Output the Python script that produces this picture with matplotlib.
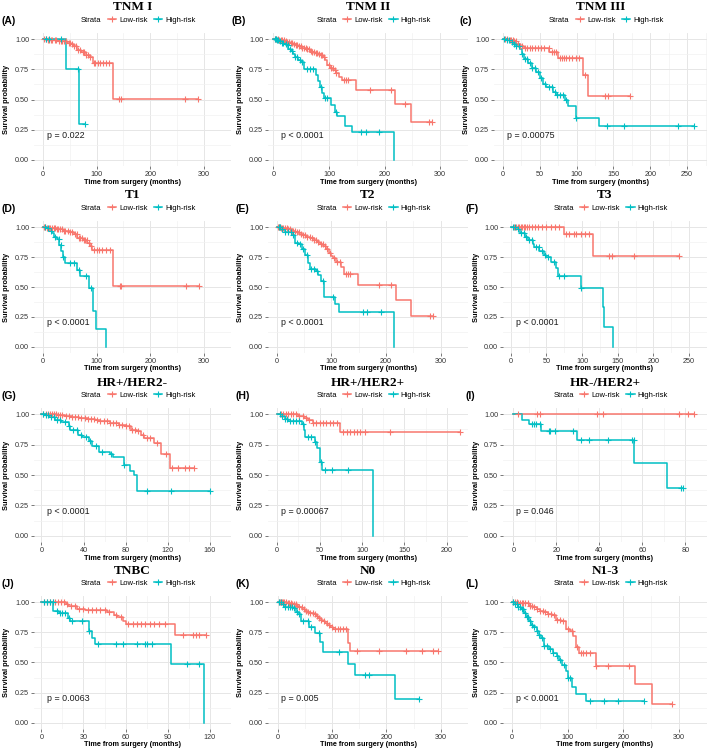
import numpy as np
import matplotlib
matplotlib.use("Agg")
import matplotlib.pyplot as plt
import matplotlib.transforms as mtrans
from matplotlib.lines import Line2D

plt.rcParams['font.family'] = ['Liberation Sans', 'DejaVu Sans']

# ---- data: event times (t), survival after event (s), censor times (c)
A_low_t = [8, 20, 28, 45, 52, 57, 63, 72, 80, 87, 93, 131]
A_low_s = [0.995, 0.99, 0.98, 0.97, 0.955, 0.94, 0.91, 0.89, 0.87, 0.85, 0.805, 0.505]
A_low_c = [3, 6, 9, 12, 15, 18, 22, 25, 30, 33, 36, 40, 44, 48, 50, 54, 58, 61, 65, 70, 74, 77, 80,
           84, 88, 95, 98, 102, 106, 112, 118, 124, 142, 145, 265, 288]
A_high_t = [43, 67]
A_high_s = [0.75, 0.30]
A_high_c = [6, 12, 34, 65, 78]

B_low_t = [5, 10, 15, 20, 25, 30, 35, 40, 45, 50, 55, 60, 65, 70, 75, 80, 85, 90, 93, 96, 102, 108,
           113, 118, 124, 148, 219, 248]
B_low_s = [0.997, 0.993, 0.99, 0.982, 0.975, 0.965, 0.957, 0.95, 0.94, 0.93, 0.922, 0.915, 0.905,
           0.895, 0.885, 0.875, 0.865, 0.855, 0.83, 0.785, 0.76, 0.74, 0.72, 0.69, 0.66, 0.58, 0.46, 0.31]
B_low_c = [3, 5, 8, 10, 13, 16, 19, 22, 25, 28, 31, 34, 37, 40, 43, 46, 49, 52, 55, 58, 61, 64, 67, 70,
           73, 76, 79, 82, 85, 88, 91, 100, 104, 107, 110, 113, 127, 131, 135, 173, 211, 236, 280, 286]
B_high_t = [5, 10, 15, 19, 25, 27, 31, 35, 38, 44, 50, 55, 77, 80, 84, 88, 91, 104, 111, 114, 129, 141, 216]
B_high_s = [0.99, 0.98, 0.97, 0.96, 0.95, 0.92, 0.90, 0.88, 0.85, 0.83, 0.81, 0.75, 0.70, 0.65, 0.60,
            0.55, 0.51, 0.455, 0.40, 0.36, 0.28, 0.23, 0.0]
B_high_c = [2, 4, 6, 9, 12, 15, 18, 22, 26, 30, 34, 38, 42, 47, 52, 60, 66, 72, 86, 92, 96, 112, 157, 167, 190]

C_low_t = [8, 14, 18, 23, 29, 63, 75, 109, 116]
C_low_s = [0.995, 0.985, 0.96, 0.94, 0.925, 0.89, 0.845, 0.70, 0.53]
C_low_c = [3, 6, 9, 11, 13, 15, 17, 20, 23, 26, 30, 33, 37, 40, 44, 48, 52, 56, 62, 66, 69, 72, 77, 80,
           83, 86, 90, 94, 99, 103, 112, 138, 143, 172]
C_high_t = [5, 10, 14, 18, 23, 26, 29, 34, 39, 45, 50, 54, 59, 68, 72, 84, 88, 99, 131]
C_high_s = [0.99, 0.975, 0.96, 0.94, 0.92, 0.88, 0.835, 0.80, 0.76, 0.73, 0.68, 0.63, 0.60, 0.56, 0.54,
            0.50, 0.45, 0.35, 0.28]
C_high_c = [2, 5, 8, 12, 15, 18, 22, 26, 30, 33, 37, 40, 44, 48, 52, 57, 62, 66, 70, 74, 77, 81, 86, 99,
            141, 164, 237, 259]

D_low_t = [6, 15, 26, 37, 50, 58, 64, 75, 83, 88, 92, 131]
D_low_s = [0.995, 0.99, 0.985, 0.97, 0.96, 0.94, 0.91, 0.89, 0.87, 0.84, 0.81, 0.51]
D_low_c = [3, 5, 8, 11, 14, 17, 20, 23, 26, 29, 32, 35, 39, 42, 46, 50, 55, 60, 63, 67, 70, 73, 76, 79,
           82, 86, 90, 96, 100, 104, 110, 118, 125, 143, 146, 266, 290]
D_high_t = [7, 12, 17, 20, 26, 31, 34, 37, 42, 64, 69, 86, 94, 99, 117]
D_high_s = [0.99, 0.97, 0.95, 0.92, 0.90, 0.85, 0.80, 0.75, 0.70, 0.645, 0.59, 0.49, 0.30, 0.15, 0.0]
D_high_c = [5, 9, 15, 22, 30, 33, 37, 50, 58, 67, 80, 90]

E_low_t = [7, 14, 20, 27, 34, 41, 48, 54, 61, 68, 74, 79, 85, 90, 95, 100, 103, 108, 117, 122, 148, 219, 246]
E_low_s = [0.995, 0.99, 0.98, 0.97, 0.955, 0.94, 0.93, 0.92, 0.905, 0.89, 0.875, 0.86, 0.84, 0.82, 0.78,
           0.76, 0.74, 0.71, 0.67, 0.61, 0.52, 0.395, 0.26]
E_low_c = [2, 4, 6, 8, 10, 12, 15, 18, 21, 24, 27, 30, 33, 36, 40, 44, 48, 52, 56, 60, 64, 68, 72, 76, 80,
           84, 88, 92, 98, 104, 110, 116, 126, 130, 134, 187, 209, 280, 285]
E_high_t = [8, 14, 27, 33, 41, 46, 52, 57, 60, 71, 76, 81, 87, 106, 114, 214]
E_high_s = [0.98, 0.96, 0.93, 0.87, 0.86, 0.82, 0.77, 0.70, 0.65, 0.63, 0.60, 0.55, 0.42, 0.36, 0.29, 0.0]
E_high_c = [3, 6, 10, 15, 20, 25, 30, 36, 42, 48, 55, 62, 68, 74, 85, 103, 157, 165, 190]

F_low_t = [74, 115]
F_low_s = [0.94, 0.755]
F_low_c = [4, 8, 10, 12, 14, 16, 18, 20, 23, 26, 30, 34, 38, 44, 50, 56, 62, 67, 77, 82, 88, 92, 98, 104,
           110, 138, 142, 172, 236]
F_high_t = [8, 13, 20, 24, 31, 33, 40, 47, 49, 56, 63, 66, 99, 129, 131, 143]
F_high_s = [0.98, 0.95, 0.92, 0.89, 0.86, 0.83, 0.80, 0.77, 0.75, 0.71, 0.66, 0.59, 0.49, 0.33, 0.165, 0.0]
F_high_c = [3, 6, 10, 14, 18, 22, 26, 30, 35, 39, 44, 48, 52, 60, 67, 74, 99]

G_low_t = [7, 15, 22, 29, 36, 44, 51, 56, 65, 74, 80, 85, 91, 95, 97, 107, 114, 122]
G_low_s = [0.997, 0.99, 0.985, 0.977, 0.97, 0.96, 0.95, 0.94, 0.93, 0.91, 0.90, 0.87, 0.86, 0.83, 0.80,
           0.76, 0.67, 0.56]
G_low_c = [2, 4, 6, 8, 10, 12, 14, 16, 18, 20, 23, 26, 29, 32, 35, 38, 41, 44, 47, 50, 53, 56, 59, 62, 65,
           68, 71, 74, 77, 80, 83, 86, 89, 92, 96, 100, 103, 110, 118, 124, 130, 136, 140, 145]
G_high_t = [4, 7, 13, 19, 26, 27, 35, 39, 45, 48, 55, 65, 68, 78, 84, 88, 91]
G_high_s = [0.99, 0.98, 0.95, 0.935, 0.90, 0.87, 0.83, 0.81, 0.78, 0.74, 0.69, 0.67, 0.645, 0.58, 0.53,
            0.50, 0.37]
G_high_c = [2, 4, 6, 9, 12, 15, 18, 22, 26, 30, 34, 38, 42, 46, 52, 58, 66, 78, 100, 123, 160]

H_low_t = [24, 31, 36, 42, 74]
H_low_s = [0.985, 0.97, 0.95, 0.93, 0.855]
H_low_c = [4, 7, 10, 13, 16, 19, 22, 26, 30, 34, 38, 42, 46, 50, 54, 58, 62, 66, 70, 78, 82, 86, 90, 94,
           98, 104, 133, 215]
H_high_t = [5, 9, 13, 29, 31, 33, 44, 47, 50, 51, 53, 113]
H_high_s = [0.985, 0.96, 0.94, 0.915, 0.87, 0.81, 0.77, 0.72, 0.67, 0.61, 0.54, 0.0]
H_high_c = [3, 6, 9, 12, 15, 18, 22, 26, 30, 36, 40, 45, 52, 56, 64, 84]

I_low_t = []
I_low_s = []
I_low_c = [2, 11, 12.6, 39, 41.5, 77, 81, 84]
I_high_t = [4, 7.5, 13, 29.6, 56.3, 71.5]
I_high_s = [0.955, 0.915, 0.865, 0.79, 0.595, 0.395]
I_high_c = [8.5, 9.5, 10.7, 12.4, 16.5, 17.2, 19.4, 27.7, 31.5, 35, 43.8, 55, 56, 78, 79]

J_low_t = [17.6, 19, 25.6, 31, 47, 51.6, 54, 58, 60, 95]
J_low_s = [0.985, 0.965, 0.945, 0.935, 0.915, 0.895, 0.875, 0.845, 0.82, 0.73]
J_low_c = [2, 4, 6, 8, 10, 12, 14, 16, 18, 21, 24, 27, 30, 33, 36, 39, 42, 45, 48, 53, 57, 62, 65, 68, 71,
           74, 77, 80, 84, 88, 101, 108, 110, 112, 117]
J_high_t = [8.2, 12.6, 19, 20.6, 34, 36.4, 38, 92, 115.6]
J_high_s = [0.93, 0.91, 0.87, 0.84, 0.76, 0.70, 0.65, 0.49, 0.0]
J_high_c = [2, 4, 6, 8, 11, 13, 15, 17, 20, 22, 29, 34, 40, 53, 58, 68, 74, 75, 79, 104, 112]

K_low_t = [17, 26, 34, 40, 45, 50, 55, 60, 66, 70, 74, 79, 83, 87, 91, 96, 102, 130, 133]
K_low_s = [0.99, 0.98, 0.97, 0.955, 0.94, 0.93, 0.92, 0.91, 0.90, 0.885, 0.87, 0.855, 0.84, 0.825, 0.81,
           0.795, 0.78, 0.66, 0.595]
K_low_c = [2, 4, 6, 8, 10, 12, 15, 18, 21, 24, 27, 30, 33, 36, 40, 44, 48, 52, 56, 60, 64, 68, 72, 76, 80,
           85, 90, 95, 100, 105, 110, 115, 120, 125, 145, 187, 236, 265, 286, 295]
K_high_t = [9, 12, 28, 34, 39, 42, 58, 69, 77, 83, 129, 142, 215]
K_high_s = [0.98, 0.96, 0.95, 0.92, 0.90, 0.84, 0.79, 0.74, 0.67, 0.59, 0.49, 0.395, 0.195]
K_high_c = [3, 6, 10, 14, 18, 22, 26, 30, 35, 40, 46, 55, 62, 75, 112, 160, 167, 259]

L_low_t = [10, 19, 30, 37, 44, 50, 57, 64, 71, 79, 88, 96, 104, 110, 115, 120, 150, 220, 251]
L_low_s = [0.995, 0.99, 0.97, 0.955, 0.94, 0.93, 0.92, 0.905, 0.89, 0.85, 0.84, 0.78, 0.76, 0.72, 0.63,
           0.58, 0.47, 0.32, 0.16]
L_low_c = [2, 5, 8, 11, 14, 17, 20, 24, 28, 32, 36, 40, 45, 50, 55, 60, 65, 70, 75, 80, 86, 92, 100, 108,
           116, 124, 128, 133, 140, 150, 172, 210, 287]
L_high_t = [5, 11, 16, 21, 25, 30, 34, 38, 44, 48, 52, 57, 66, 74, 80, 85, 90, 96, 100, 107, 115, 132]
L_high_s = [0.985, 0.96, 0.94, 0.91, 0.88, 0.84, 0.81, 0.79, 0.76, 0.73, 0.70, 0.64, 0.61, 0.58, 0.55,
            0.52, 0.48, 0.43, 0.37, 0.30, 0.24, 0.185]
L_high_c = [2, 5, 8, 11, 14, 17, 20, 23, 26, 29, 32, 36, 40, 44, 48, 53, 58, 63, 68, 74, 80, 86, 94, 100,
            104, 140, 165, 190, 237]

letters = ["(A)", "(B)", "(c)", "(D)", "(E)", "(F)", "(G)", "(H)", "(I)", "(J)", "(K)", "(L)"]
titles = ["TNM I", "TNM II", "TNM III", "T1", "T2", "T3",
          "HR+/HER2-", "HR+/HER2+", "HR-/HER2+", "TNBC", "N0", "N1-3"]
pvals = ["p = 0.022", "p < 0.0001", "p = 0.00075", "p < 0.0001", "p < 0.0001", "p < 0.0001",
         "p < 0.0001", "p = 0.00067", "p = 0.046", "p = 0.0063", "p = 0.005", "p < 0.0001"]
x_step = [100, 100, 50, 100, 100, 50, 40, 50, 20, 30, 100, 100]
x_max = [300, 300, 250, 300, 300, 250, 160, 200, 80, 120, 300, 300]
x_lims = [(-16.3, 305), (-9.8, 318), (-12.2, 277), (-16.3, 305), (-16.3, 310), (-10.9, 268),
          (-7.0, 164.3), (-10.9, 207.7), (-4.8, 84.3), (-5.2, 122.6), (-17.9, 308), (-16.3, 316)]

low_curves = [(A_low_t, A_low_s, A_low_c), (B_low_t, B_low_s, B_low_c), (C_low_t, C_low_s, C_low_c),
              (D_low_t, D_low_s, D_low_c), (E_low_t, E_low_s, E_low_c), (F_low_t, F_low_s, F_low_c),
              (G_low_t, G_low_s, G_low_c), (H_low_t, H_low_s, H_low_c), (I_low_t, I_low_s, I_low_c),
              (J_low_t, J_low_s, J_low_c), (K_low_t, K_low_s, K_low_c), (L_low_t, L_low_s, L_low_c)]
high_curves = [(A_high_t, A_high_s, A_high_c), (B_high_t, B_high_s, B_high_c), (C_high_t, C_high_s, C_high_c),
               (D_high_t, D_high_s, D_high_c), (E_high_t, E_high_s, E_high_c), (F_high_t, F_high_s, F_high_c),
               (G_high_t, G_high_s, G_high_c), (H_high_t, H_high_s, H_high_c), (I_high_t, I_high_s, I_high_c),
               (J_high_t, J_high_s, J_high_c), (K_high_t, K_high_s, K_high_c), (L_high_t, L_high_s, L_high_c)]

LOW = '#F8766D'
HIGH = '#00BFC4'
W, H = 709, 751

# panel boxes in pixels
ax_left = [34, 268, 494, 34, 268, 503, 34, 268, 503, 34, 268, 503]
col_right = [231, 468, 707]
row_top = [33, 221, 408, 596]
row_bot = [166, 353, 542, 729]
letter_x = [2, 231, 459, 2, 235, 466, 2, 235, 466, 2, 235, 466]


def km(ax, t, s, c, color):
    t = np.asarray(t, float)
    s = np.asarray(s, float)
    c = np.asarray(c, float)
    end = max(t.max() if len(t) else 0, c.max() if len(c) else 0)
    xs = np.concatenate([[0], t, [end]])
    ys = np.concatenate([[1.0], s, [s[-1] if len(s) else 1.0]])
    ax.step(xs, ys, where='post', color=color, lw=1.1, zorder=3)
    lev = np.concatenate([[1.0], s])
    cy = lev[np.searchsorted(t, c, side='right')]
    ax.plot(c, cy, '+', color=color, ms=4.2, mew=0.8, zorder=4)


fig = plt.figure(figsize=(W / 100, H / 100), dpi=100)
fig.patch.set_facecolor('white')

for i in range(12):
    r, col = divmod(i, 3)
    left, right = ax_left[i], col_right[col]
    top, bot = row_top[r], row_bot[r]
    ax = fig.add_axes([left / W, 1 - bot / H, (right - left) / W, (bot - top) / H])
    for sp in ax.spines.values():
        sp.set_visible(False)

    km(ax, *low_curves[i], LOW)
    km(ax, *high_curves[i], HIGH)

    ax.set_xlim(*x_lims[i])
    ax.set_ylim(-0.05, 1.05)
    ax.set_xticks(np.arange(0, x_max[i] + 1, x_step[i]))
    ax.set_xticks(np.arange(x_step[i] / 2, x_max[i] + x_step[i], x_step[i]), minor=True)
    ax.set_yticks([0, 0.25, 0.5, 0.75, 1.0])
    ax.set_yticklabels(['0.00', '0.25', '0.50', '0.75', '1.00'])
    ax.set_yticks([0.125, 0.375, 0.625, 0.875], minor=True)
    ax.grid(which='major', color='#E6E6E6', lw=0.7, zorder=0)
    ax.grid(which='minor', color='#F1F1F1', lw=0.5, zorder=0)
    ax.tick_params(which='major', length=2, width=0.5, color='#444444', labelsize=5.2,
                   labelcolor='#333333', pad=1.5)
    ax.tick_params(which='minor', length=0)

    w_px = right - left
    h_px = bot - top
    ax.set_xlabel('Time from surgery (months)', fontweight='bold', fontsize=5.2, va='center')
    ax.xaxis.set_label_coords(0.5, -16 / h_px)
    ax.set_ylabel('Survival probability', fontweight='bold', fontsize=5.3, va='center')
    ax.yaxis.set_label_coords(-27 / w_px, 0.5)

    trans = mtrans.blended_transform_factory(ax.transAxes, ax.transData)
    ax.text(13 / w_px, 0.2, pvals[i], transform=trans, ha='left', va='center',
            fontsize=6.4, color='#1A1A1A')

    handles = [Line2D([], [], color='none', label='Strata'),
               Line2D([], [], color=LOW, marker='+', ms=4.2, mew=0.8, lw=1.1, label='Low-risk'),
               Line2D([], [], color=HIGH, marker='+', ms=4.2, mew=0.8, lw=1.1, label='High-risk')]
    ax.legend(handles=handles, loc='center', bbox_to_anchor=(0.5, 1 + 13 / h_px), ncol=3,
              frameon=False, fontsize=5.5, handlelength=1.1, handletextpad=0.4,
              columnspacing=0.8, borderpad=0, borderaxespad=0)

    cx = (left + right) / 2
    fig.text(cx / W, 1 - (top - 25.5) / H, titles[i], ha='center', va='center',
             family='Liberation Serif', fontweight='bold', fontsize=9.5)
    fig.text(letter_x[i] / W, 1 - (top - 12) / H, letters[i], ha='left', va='center',
             fontweight='bold', fontsize=7.5)

fig.savefig('out.png', dpi=100)
